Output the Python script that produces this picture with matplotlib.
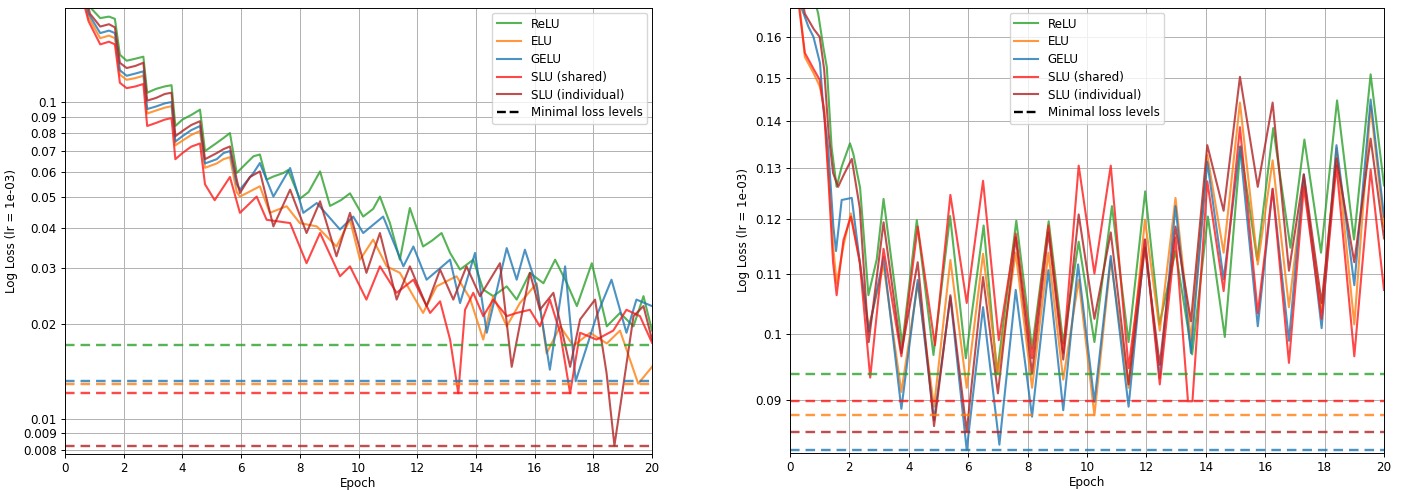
import matplotlib
matplotlib.use("Agg")
import matplotlib.pyplot as plt
from matplotlib.lines import Line2D
from matplotlib.ticker import NullLocator, FixedLocator, FixedFormatter

S = 0.86  # the reference looks rendered at ~86% scale
plt.rcParams.update({
    "font.size": 10 * S,
    "axes.linewidth": 0.8 * S,
    "xtick.major.size": 3.5 * S,
    "ytick.major.size": 3.5 * S,
    "xtick.major.width": 0.8 * S,
    "ytick.major.width": 0.8 * S,
    "xtick.major.pad": 3.5 * S,
    "ytick.major.pad": 3.5 * S,
    "axes.labelpad": 4.0 * S,
})

# ---------------- data: left panel ----------------
L_relu_x = [0.0, 0.5, 0.9, 1.2, 1.5, 1.7, 1.87, 2.1, 2.4, 2.67, 2.8, 3.1, 3.4, 3.63, 3.76, 4.0, 4.3, 4.6, 4.77, 5.17, 5.4, 5.62, 5.85, 6.1, 6.42, 6.64, 6.87, 7.1, 7.44, 7.6, 8.0, 8.3, 8.69, 9.03, 9.4, 9.71, 10.16, 10.5, 10.73, 11.07, 11.41, 11.75, 12.2, 12.5, 12.83, 13.12, 13.46, 13.91, 14.25, 14.59, 15.05, 15.39, 15.84, 16.3, 16.7, 17.1, 17.44, 17.95, 18.46, 18.91, 19.37, 19.71, 20.0]
L_relu_y = [0.6, 0.28, 0.197, 0.184, 0.186, 0.183, 0.141, 0.135, 0.137, 0.139, 0.107, 0.110, 0.112, 0.113, 0.084, 0.088, 0.091, 0.0946, 0.070, 0.0743, 0.077, 0.0798, 0.0597, 0.063, 0.0674, 0.0683, 0.0569, 0.0582, 0.0597, 0.061, 0.0495, 0.052, 0.0604, 0.047, 0.049, 0.0515, 0.0435, 0.046, 0.0503, 0.0415, 0.0318, 0.0463, 0.035, 0.0365, 0.0386, 0.0334, 0.0296, 0.0318, 0.0256, 0.0244, 0.0262, 0.0238, 0.0289, 0.0268, 0.0318, 0.0268, 0.0227, 0.031, 0.0196, 0.0216, 0.0196, 0.0244, 0.019]

L_elu_x = [0.0, 0.5, 0.8, 1.2, 1.5, 1.7, 1.87, 2.1, 2.4, 2.67, 2.8, 3.1, 3.4, 3.63, 3.76, 4.0, 4.3, 4.6, 4.77, 5.17, 5.4, 5.62, 5.85, 5.96, 6.64, 6.98, 7.55, 8.0, 8.58, 9.25, 9.71, 10.05, 10.5, 10.96, 11.41, 12.2, 12.66, 13.34, 13.8, 14.25, 14.59, 15.05, 15.5, 16.07, 16.41, 16.87, 17.32, 17.89, 18.46, 18.91, 19.53, 20.0]
L_elu_y = [0.5, 0.24, 0.185, 0.159, 0.162, 0.159, 0.122, 0.1175, 0.119, 0.121, 0.092, 0.094, 0.096, 0.097, 0.073, 0.0755, 0.0787, 0.081, 0.062, 0.064, 0.066, 0.067, 0.052, 0.0503, 0.0542, 0.0447, 0.0469, 0.0415, 0.0405, 0.035, 0.0425, 0.0318, 0.0368, 0.0303, 0.0289, 0.0216, 0.0262, 0.0282, 0.024, 0.0178, 0.0244, 0.0196, 0.0232, 0.0268, 0.0161, 0.0196, 0.017, 0.0187, 0.0173, 0.019, 0.01292, 0.0146]

L_gelu_x = [0.0, 0.5, 0.8, 1.2, 1.5, 1.7, 1.87, 2.1, 2.4, 2.67, 2.8, 3.1, 3.4, 3.63, 3.76, 4.0, 4.3, 4.6, 4.77, 5.17, 5.4, 5.62, 5.85, 5.96, 6.42, 6.64, 7.1, 7.67, 8.12, 8.58, 9.37, 9.82, 10.16, 10.84, 11.53, 11.87, 12.32, 12.8, 13.12, 13.46, 13.97, 14.37, 15.05, 15.39, 15.67, 16.07, 16.52, 17.04, 17.4, 18.11, 18.62, 19.13, 19.47, 20.0]
L_gelu_y = [0.5, 0.25, 0.19, 0.165, 0.168, 0.165, 0.126, 0.121, 0.123, 0.125, 0.095, 0.0968, 0.099, 0.100, 0.075, 0.078, 0.0815, 0.084, 0.064, 0.066, 0.069, 0.070, 0.055, 0.0529, 0.0597, 0.0642, 0.0503, 0.0619, 0.0447, 0.048, 0.0396, 0.0435, 0.0386, 0.0435, 0.0303, 0.035, 0.0275, 0.030, 0.0318, 0.0232, 0.0334, 0.0187, 0.0346, 0.0275, 0.0342, 0.0262, 0.0143, 0.0303, 0.01315, 0.0211, 0.0275, 0.0187, 0.0238, 0.0227]

L_slu_sh_x = [0.0, 0.5, 0.8, 1.2, 1.5, 1.7, 1.87, 2.1, 2.4, 2.67, 2.8, 3.1, 3.4, 3.63, 3.76, 4.0, 4.3, 4.6, 4.77, 5.1, 5.62, 5.96, 6.53, 6.87, 7.67, 8.23, 8.69, 9.37, 9.71, 10.27, 10.73, 11.3, 11.87, 12.44, 12.78, 13.12, 13.4, 13.63, 13.91, 14.25, 14.59, 15.05, 15.39, 15.84, 16.18, 16.52, 16.87, 17.21, 17.55, 18.11, 18.68, 19.13, 19.59, 20.0]
L_slu_sh_y = [0.45, 0.23, 0.18, 0.152, 0.155, 0.152, 0.115, 0.1106, 0.112, 0.114, 0.084, 0.0859, 0.088, 0.089, 0.066, 0.069, 0.0723, 0.074, 0.055, 0.049, 0.058, 0.0447, 0.0503, 0.0425, 0.0415, 0.031, 0.0386, 0.0282, 0.0303, 0.0238, 0.0303, 0.025, 0.0275, 0.0216, 0.0235, 0.0178, 0.01205, 0.0221, 0.025, 0.0211, 0.0238, 0.0211, 0.0216, 0.0221, 0.0196, 0.0238, 0.0187, 0.01205, 0.0187, 0.0178, 0.019, 0.0221, 0.0211, 0.0174]

L_slu_ind_x = [0.0, 0.5, 0.85, 1.2, 1.5, 1.7, 1.87, 2.1, 2.4, 2.67, 2.8, 3.1, 3.4, 3.63, 3.76, 4.0, 4.3, 4.6, 4.77, 5.17, 5.4, 5.62, 5.85, 5.96, 6.3, 6.64, 7.1, 7.67, 8.23, 8.69, 9.25, 9.71, 10.27, 10.73, 11.3, 11.75, 12.32, 12.78, 13.23, 13.68, 14.14, 14.82, 15.22, 15.84, 16.18, 16.64, 17.21, 17.55, 18.06, 18.45, 18.72, 19.02, 19.37, 19.71, 20.0]
L_slu_ind_y = [0.55, 0.26, 0.19, 0.173, 0.176, 0.172, 0.133, 0.128, 0.130, 0.133, 0.101, 0.103, 0.106, 0.107, 0.078, 0.081, 0.0846, 0.087, 0.066, 0.069, 0.071, 0.0724, 0.057, 0.0516, 0.058, 0.0604, 0.0405, 0.0529, 0.0386, 0.0486, 0.0326, 0.0447, 0.0289, 0.0386, 0.0238, 0.0303, 0.0227, 0.0296, 0.0238, 0.0303, 0.0244, 0.031, 0.0146, 0.0289, 0.0221, 0.025, 0.0146, 0.0206, 0.0238, 0.014, 0.00824, 0.0127, 0.0211, 0.0227, 0.0178]

L_min_levels = [0.01711, 0.01292, 0.01315, 0.01205, 0.00824]  # ReLU, ELU, GELU, SLU sh, SLU ind

# ---------------- data: right panel ----------------
R_relu_x = [0.0, 0.5, 0.95, 1.12, 1.24, 1.40, 1.57, 1.74, 2.02, 2.13, 2.36, 2.64, 2.92, 3.15, 3.78, 4.27, 4.83, 5.39, 5.92, 6.52, 6.97, 7.62, 8.15, 8.71, 9.2, 9.72, 10.25, 10.84, 11.4, 11.96, 12.44, 12.98, 13.54, 14.07, 14.64, 15.17, 15.73, 16.27, 16.85, 17.32, 17.88, 18.42, 18.99, 19.55, 20.0]
R_relu_y = [0.2, 0.18, 0.166, 0.1575, 0.1525, 0.1344, 0.1262, 0.1303, 0.1352, 0.133, 0.126, 0.1063, 0.1125, 0.1238, 0.0983, 0.1197, 0.0967, 0.1205, 0.0962, 0.1187, 0.09387, 0.1196, 0.0977, 0.1195, 0.0985, 0.1157, 0.0987, 0.1224, 0.0987, 0.1253, 0.1015, 0.114, 0.0968, 0.1204, 0.0995, 0.1345, 0.1124, 0.1385, 0.1146, 0.136, 0.1137, 0.1447, 0.1161, 0.1508, 0.1265]

R_elu_x = [0.0, 0.3, 0.5, 0.8, 1.0, 1.15, 1.3, 1.45, 1.57, 1.8, 2.05, 2.35, 2.65, 3.15, 3.75, 4.3, 4.85, 5.4, 5.95, 6.5, 7.0, 7.6, 8.15, 8.7, 9.2, 9.72, 10.25, 10.8, 11.4, 11.95, 12.45, 12.98, 13.5, 14.05, 14.6, 15.15, 15.75, 16.25, 16.8, 17.3, 17.9, 18.4, 19.0, 19.55, 20.0]
R_elu_y = [0.2, 0.17, 0.155, 0.151, 0.148, 0.143, 0.129, 0.115, 0.1083, 0.115, 0.121, 0.112, 0.101, 0.1115, 0.0912, 0.1083, 0.0891, 0.1124, 0.0918, 0.1135, 0.0939, 0.1137, 0.0918, 0.1137, 0.093, 0.1089, 0.08789, 0.1124, 0.0918, 0.1198, 0.1005, 0.124, 0.099, 0.1327, 0.1137, 0.1442, 0.1116, 0.1316, 0.1043, 0.1273, 0.1035, 0.1342, 0.1015, 0.1434, 0.1185]

R_gelu_x = [0.0, 0.39, 0.62, 0.79, 1.01, 1.12, 1.29, 1.46, 1.55, 1.74, 2.08, 2.35, 2.65, 3.15, 3.75, 4.3, 4.85, 5.4, 5.95, 6.5, 7.05, 7.6, 8.15, 8.7, 9.2, 9.7, 10.25, 10.8, 11.4, 11.95, 12.45, 12.98, 13.5, 14.05, 14.6, 15.15, 15.75, 16.25, 16.8, 17.3, 17.9, 18.4, 19.0, 19.55, 20.0]
R_gelu_y = [0.2, 0.1675, 0.1626, 0.160, 0.1535, 0.143, 0.1338, 0.1185, 0.114, 0.1236, 0.124, 0.112, 0.1004, 0.1129, 0.0888, 0.1089, 0.0872, 0.106, 0.0832, 0.1043, 0.0839, 0.1072, 0.0877, 0.1106, 0.0886, 0.1116, 0.0898, 0.1131, 0.0891, 0.1161, 0.0932, 0.1224, 0.097, 0.1313, 0.109, 0.1345, 0.1012, 0.1258, 0.0989, 0.1287, 0.1009, 0.1348, 0.108, 0.1449, 0.1204]

R_slu_sh_x = [0.0, 0.3, 0.5, 0.8, 1.0, 1.15, 1.3, 1.45, 1.57, 1.8, 2.05, 2.35, 2.7, 3.15, 3.75, 4.3, 4.88, 5.4, 5.95, 6.5, 7.03, 7.6, 8.15, 8.7, 9.2, 9.72, 10.25, 10.8, 11.4, 11.95, 12.45, 12.98, 13.4, 13.55, 14.05, 14.6, 15.15, 15.75, 16.25, 16.8, 17.3, 17.9, 18.4, 19.0, 19.55, 20.0]
R_slu_sh_y = [0.2, 0.168, 0.156, 0.152, 0.1495, 0.142, 0.127, 0.112, 0.1063, 0.116, 0.1204, 0.112, 0.0933, 0.1144, 0.0965, 0.1185, 0.0982, 0.1246, 0.105, 0.1274, 0.099, 0.1172, 0.0962, 0.1187, 0.097, 0.1305, 0.110, 0.1305, 0.0947, 0.1161, 0.0923, 0.1165, 0.08986, 0.08986, 0.1273, 0.107, 0.1387, 0.1033, 0.1258, 0.0955, 0.1262, 0.1024, 0.1305, 0.0965, 0.1297, 0.1072]

R_slu_ind_x = [0.0, 0.3, 0.5, 0.8, 1.0, 1.15, 1.3, 1.45, 1.62, 1.8, 2.08, 2.35, 2.65, 3.15, 3.75, 4.3, 4.85, 5.4, 5.95, 6.5, 7.0, 7.6, 8.15, 8.7, 9.2, 9.72, 10.25, 10.8, 11.4, 11.95, 12.45, 12.98, 13.5, 14.05, 14.6, 15.15, 15.75, 16.25, 16.8, 17.3, 17.9, 18.4, 19.0, 19.55, 20.0]
R_slu_ind_y = [0.2, 0.175, 0.166, 0.162, 0.160, 0.152, 0.1373, 0.129, 0.1262, 0.1285, 0.1319, 0.122, 0.0987, 0.1193, 0.097, 0.112, 0.0864, 0.1063, 0.08566, 0.1094, 0.091, 0.1165, 0.0939, 0.1174, 0.096, 0.1208, 0.1024, 0.1174, 0.0923, 0.1146, 0.0952, 0.1185, 0.102, 0.1348, 0.1215, 0.1502, 0.1262, 0.1442, 0.1105, 0.1287, 0.105, 0.132, 0.112, 0.1362, 0.1163]

R_min_levels = [0.09387, 0.08789, 0.0832, 0.08986, 0.08566]

labels = ["ReLU", "ELU", "GELU", "SLU (shared)", "SLU (individual)"]
colors = ["tab:green", "tab:orange", "tab:blue", "#ff1a1a", "#b22222"]

L_ticks = [0.008, 0.009, 0.01, 0.02, 0.03, 0.04, 0.05, 0.06, 0.07, 0.08, 0.09, 0.1]
R_ticks = [0.09, 0.1, 0.11, 0.12, 0.13, 0.14, 0.15, 0.16]
x_ticks = [0, 2, 4, 6, 8, 10, 12, 14, 16, 18, 20]

fig = plt.figure(figsize=(14.02, 4.9), dpi=100)
axL = fig.add_axes([65/1402, 36/490, (652-65)/1402, (454-8)/490])
axR = fig.add_axes([790/1402, 37/490, (1384-790)/1402, (453-8)/490])

def draw(ax, series, mins, ylim, ticks, legend_loc):
    for (xs, ys), lab, c in zip(series, labels, colors):
        ax.plot(xs, ys, color=c, lw=1.5, alpha=0.8, label=lab)
    for m, c in zip(mins, colors):
        ax.axhline(m, color=c, ls="--", lw=2.0 * S, alpha=0.8, dashes=(4, 2.5))
    ax.set_yscale("log")
    ax.set_xlim(0, 20)
    ax.set_ylim(*ylim)
    ax.yaxis.set_major_locator(FixedLocator(ticks))
    ax.yaxis.set_major_formatter(FixedFormatter([f"{t:g}" for t in ticks]))
    ax.yaxis.set_minor_locator(NullLocator())
    ax.set_xticks(x_ticks)
    ax.grid(True, color="#b0b0b0", lw=0.8 * S)
    ax.set_xlabel("Epoch", labelpad=1.5)
    ax.set_ylabel("Log Loss (lr = 1e-03)")
    handles, labs = ax.get_legend_handles_labels()
    handles.append(Line2D([0], [0], color="black", ls="--", lw=2.0 * S))
    labs.append("Minimal loss levels")
    ax.legend(handles, labs, loc=legend_loc, fontsize=10 * S,
              labelspacing=0.4, borderaxespad=0.4)

draw(axL,
     [(L_relu_x, L_relu_y), (L_elu_x, L_elu_y), (L_gelu_x, L_gelu_y),
      (L_slu_sh_x, L_slu_sh_y), (L_slu_ind_x, L_slu_ind_y)],
     L_min_levels, (0.00775, 0.198), L_ticks, "upper right")
draw(axR,
     [(R_relu_x, R_relu_y), (R_elu_x, R_elu_y), (R_gelu_x, R_gelu_y),
      (R_slu_sh_x, R_slu_sh_y), (R_slu_ind_x, R_slu_ind_y)],
     R_min_levels, (0.0828, 0.1675), R_ticks, "upper center")

fig.savefig("out.png", dpi=100)
